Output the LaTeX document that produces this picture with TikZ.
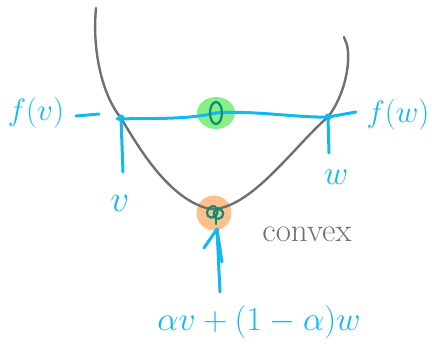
\documentclass[tikz,border=0pt]{standalone}
\usepackage{amsmath, amssymb}
\usepackage{graphicx}
\usepackage{tikz}
\usetikzlibrary{positioning, shapes.geometric}

\definecolor{penblue}{HTML}{12B8F0}
\definecolor{pengray}{HTML}{707070}
\definecolor{penteal}{HTML}{0B8C78}
\definecolor{blobgreen}{HTML}{86F086}
\definecolor{bloborange}{HTML}{FFC08C}

\tikzset{
  curve/.style={pengray, line width=2.4pt, line cap=round},
  pen/.style={penblue, line width=3pt, line cap=round, line join=round},
  scribble/.style={penteal, line width=2.2pt, line cap=round},
  lbl/.style={penblue, inner sep=0pt, font=\Huge},
}

\begin{document}
\begin{tikzpicture}[x=1pt,y=-1pt]
  \useasboundingbox (0,0) rectangle (432,345);
  % points on the curve
  \coordinate (pv) at (121,118);
  \coordinate (pw) at (328,117);
  \coordinate (vend) at (123,172);
  \coordinate (wend) at (329,153);
  \coordinate (ltick) at (76,116);
  \coordinate (rtick) at (356,112);
  % blobs
  \node[fill=blobgreen, ellipse, minimum width=38pt, minimum height=32pt, inner sep=0pt] (mid) at (216,113) {};
  \node[fill=bloborange, circle, minimum size=35pt, inner sep=0pt] (low) at (214,213) {};
  % the convex function
  \draw[curve] (96,8) .. controls (92,50) and (102,95) .. (pv)
    .. controls (140,150) and (170,200) .. (210,209)
    .. controls (250,211) and (295,145) .. (pw)
    .. controls (345,95) and (351,62) .. (347,45) -- (344,37);
  % chord
  \draw[pen] (117,119) .. controls (150,118) and (185,120) .. (mid.center)
    .. controls (250,110) and (300,118) .. (pw) -- (rtick);
  \draw[pen] (ltick) -- (99,114);
  \draw[pen] (pv) -- (vend);
  \draw[pen] (pw) -- (wend);
  \fill[penblue] (pv) circle (3.5pt);
  \fill[penblue] (pw) circle (3.5pt);
  % scribbles
  \draw[scribble] (mid.center) ellipse (6pt and 11pt);
  \draw[scribble] (207,212) .. controls (210,203) and (220,205) .. (217,214) .. controls (214,220) and (206,218) .. (207,212);
  \draw[scribble] (214,212) .. controls (218,206) and (226,210) .. (222,217) .. controls (218,221) and (212,218) .. (214,212);
  \draw[scribble] (216,214) -- (216,224);
  % arrow from the label
  \coordinate (atip) at (217,229);
  \coordinate (abase) at (220,292);
  \draw[pen] (abase) -- (atip) -- (204,248);
  \draw[pen] (atip) -- (222,262);
  % labels
  \node[lbl] (fv) at (36,113) {\scalebox{1.25}{$f(v)$}};
  \node[lbl] (fw) at (398,115) {\scalebox{1.25}{$f(w)$}};
  \node[lbl] (v) at (120,203) {\scalebox{1.5}{$v$}};
  \node[lbl] (w) at (336,177) {\scalebox{1.35}{$w$}};
  \node[pengray, inner sep=0pt, font=\fontsize{33}{35}\selectfont] (cvx) at (307,234) {convex};
  \node[lbl] (comb) at (259,322) {\scalebox{1.35}{$\alpha v+(1-\alpha)w$}};
\end{tikzpicture}
\end{document}
